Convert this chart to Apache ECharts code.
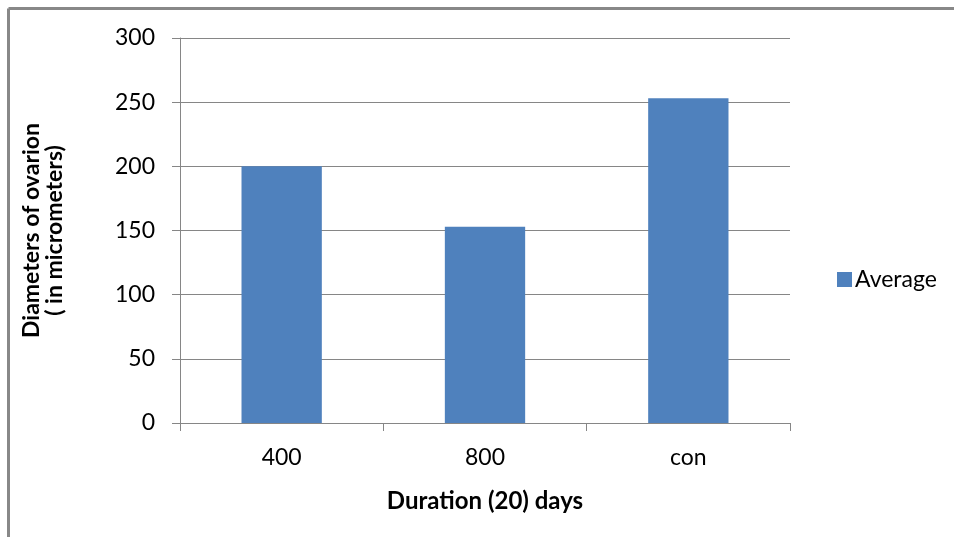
<!DOCTYPE html>
<html>
<head>
<meta charset="utf-8">
<script src="https://cdn.jsdelivr.net/npm/echarts@6/dist/echarts.min.js"></script>
<style>
html,body{margin:0;padding:0;background:#fff;}
#chart{width:954px;height:537px;}
</style>
</head>
<body>
<div id="chart"></div>
<script>
const categories = ['400', '800', 'con'];
const averageValues = [200, 153, 253];
const yTicks = [0, 50, 100, 150, 200, 250, 300];

const chart = echarts.init(document.getElementById('chart'));
const font = 'Lato, "Open Sans", sans-serif';
chart.setOption({
  animation: false,
  backgroundColor: '#fff',
  graphic: [
    { type: 'line', shape: { x1: 8.5, y1: 8.5, x2: 960, y2: 8.5 }, style: { stroke: '#888888', lineWidth: 3 }, silent: true },
    { type: 'line', shape: { x1: 8.5, y1: 8.5, x2: 8.5, y2: 545 }, style: { stroke: '#888888', lineWidth: 3 }, silent: true }
  ],
  grid: { left: 180, right: 164, top: 38, bottom: 114 },
  legend: {
    data: ['Average'],
    orient: 'vertical',
    left: 832,
    top: 263,
    icon: 'rect',
    itemWidth: 15,
    itemHeight: 15,
    itemGap: 6,
    textStyle: { fontFamily: font, fontSize: 23, color: '#000', padding: [0, 0, 0, -2] }
  },
  xAxis: {
    type: 'category',
    data: categories,
    name: 'Duration (20) days',
    nameLocation: 'middle',
    nameGap: 66,
    nameTextStyle: { fontFamily: font, fontSize: 24, fontWeight: 'bold', color: '#000' },
    axisLine: { lineStyle: { color: '#868686', width: 1 } },
    axisTick: { show: true, length: 8, lineStyle: { color: '#868686' } },
    axisLabel: { fontFamily: font, fontSize: 23, color: '#000', margin: 23 }
  },
  yAxis: {
    type: 'value',
    min: yTicks[0],
    max: yTicks[yTicks.length - 1],
    interval: 50,
    name: 'Diameters of ovarion\n( in micrometers)',
    nameLocation: 'middle',
    nameGap: 114,
    nameTextStyle: { fontFamily: font, fontSize: 23, fontWeight: 'bold', color: '#000', lineHeight: 23 },
    axisLine: { show: true, lineStyle: { color: '#868686', width: 1 } },
    axisTick: { show: true, length: 8, lineStyle: { color: '#868686' } },
    axisLabel: { fontFamily: font, fontSize: 23, color: '#000', margin: 25 },
    splitLine: { lineStyle: { color: '#868686', width: 1 } }
  },
  series: [{
    name: 'Average',
    type: 'bar',
    data: averageValues,
    barWidth: '39.5%',
    itemStyle: { color: '#4F81BD' }
  }]
});
</script>
</body>
</html>
